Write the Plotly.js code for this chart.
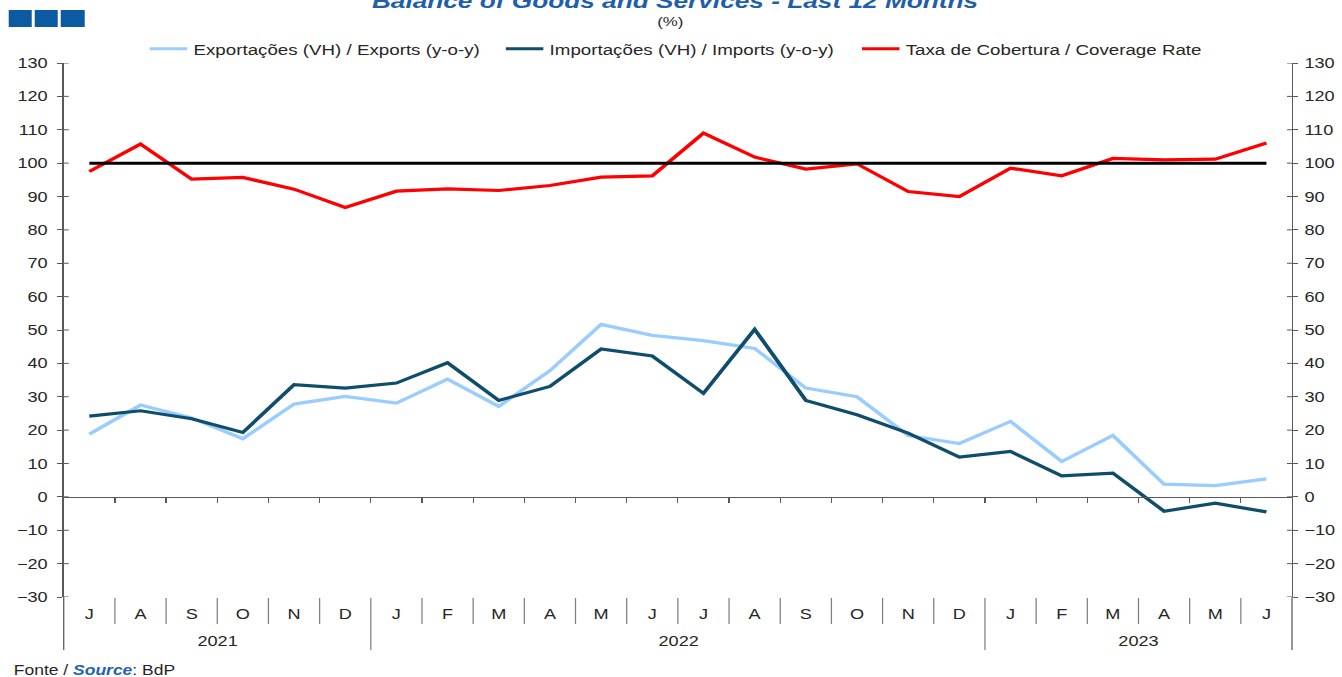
<!DOCTYPE html>
<html>
<head>
<meta charset="utf-8">
<script src="https://cdn.plot.ly/plotly-3.0.1.min.js"></script>
<style>
html,body{margin:0;padding:0;background:#fff;overflow:hidden;}
#wrap{width:1342px;height:677px;overflow:hidden;}
#chart{width:1074px;height:677px;transform-origin:0 0;}
</style>
</head>
<body>
<div id="wrap"><div id="chart"></div></div>
<script>
// ---- data ----
const months = ['J','A','S','O','N','D','J','F','M','A','M','J','J','A','S','O','N','D','J','F','M','A','M','J'];
const years = ['2021','2022','2023'];
const yearMonthCounts = [6, 12, 6];
const exportsYoY = [18.8,27.5,23.6,17.4,27.8,30.1,28.1,35.3,27.1,37.8,51.7,48.4,46.8,44.5,32.6,30.0,18.4,16.0,22.6,10.6,18.4,3.8,3.4,5.4];
const importsYoY = [24.2,25.8,23.4,19.3,33.6,32.6,34.1,40.2,28.9,33.1,44.3,42.2,31.0,50.2,28.9,24.6,19.1,11.9,13.6,6.3,7.1,-4.3,-1.9,-4.5];
const coverageRate = [97.5,105.7,95.2,95.7,92.2,86.7,91.6,92.3,91.8,93.3,95.8,96.2,109.0,101.8,98.2,99.8,91.5,90.0,98.5,96.2,101.4,101.0,101.2,106.0];
const referenceLevel = 100;
const yTicks = [-30,-20,-10,0,10,20,30,40,50,60,70,80,90,100,110,120,130];

// ---- geometry: the reference is a horizontally stretched chart ----
const WREF = 1342, H = 677;
const W = 1074;                     // drawing width before horizontal stretch
const SX = WREF / W;                // horizontal stretch factor
document.getElementById('chart').style.transform = 'scale(' + SX + ',1)';
const L = 64 / SX, R = 50 / SX, T = 63, B = 80;
const PW = W - L - R, PH = H - T - B;
const px = v => (v / SX - L) / PW;   // reference pixel x -> paper x
const py = v => (H - B - v) / PH;    // reference pixel y -> paper y
const yMin = -30, yMax = 130;

const idx = months.map((m, i) => i);
const refLine = months.map(() => referenceLevel);
const boundaries = months.slice(1).map((m, i) => i + 0.5);
const yearBounds = [];
yearMonthCounts.slice(0, -1).reduce((acc, n) => { yearBounds.push(acc + n - 0.5); return acc + n; }, 0);

const font = 'Liberation Sans, Arial, sans-serif';
const axisCol = '#595959';
const txtCol = '#262626';

const traces = [
  {x: idx, y: exportsYoY, type: 'scatter', mode: 'lines', name: 'Exportações (VH) / Exports (y-o-y)',
   line: {color: '#99CCFF', width: 3.2}, xaxis: 'x', yaxis: 'y'},
  {x: idx, y: importsYoY, type: 'scatter', mode: 'lines', name: 'Importações (VH) / Imports (y-o-y)',
   line: {color: '#0E4D6B', width: 3.2}, xaxis: 'x', yaxis: 'y'},
  {x: idx, y: coverageRate, type: 'scatter', mode: 'lines', name: 'Taxa de Cobertura / Coverage Rate',
   line: {color: '#FF0000', width: 3.2}, xaxis: 'x', yaxis: 'y'},
  {x: idx, y: refLine, type: 'scatter', mode: 'lines', name: '100', showlegend: false,
   line: {color: '#000000', width: 3}, xaxis: 'x2', yaxis: 'y'},
  {x: [idx[0]], y: [referenceLevel], type: 'scatter', mode: 'markers', marker: {opacity: 0},
   showlegend: false, hoverinfo: 'skip', xaxis: 'x', yaxis: 'y2'}
];

// ---- shapes ----
const shapes = [];
boundaries.forEach(b => {
  const isYear = yearBounds.indexOf(b) >= 0;
  shapes.push({type: 'line', xref: 'x', yref: 'paper', x0: b, x1: b, y0: py(598), y1: isYear ? py(650) : py(624),
               line: {color: '#7F7F7F', width: 1}});
});
// axis extensions below the plot
[0, 1].forEach(xx => shapes.push({type: 'line', xref: 'paper', yref: 'paper', x0: xx, x1: xx, y0: 0, y1: py(650),
  line: {color: axisCol, width: 1}}));
// inside part of the crossing y ticks
const inLen = 4 / PW;
yTicks.forEach(t => {
  shapes.push({type: 'line', xref: 'paper', yref: 'y', x0: 0, x1: inLen, y0: t, y1: t, line: {color: axisCol, width: 1}});
  shapes.push({type: 'line', xref: 'paper', yref: 'y', x0: 1 - inLen, x1: 1, y0: t, y1: t, line: {color: axisCol, width: 1}});
});
// logo squares
[[9, 32], [35, 58], [61, 85]].forEach(s => shapes.push({type: 'rect', xref: 'paper', yref: 'paper',
  x0: px(s[0]), x1: px(s[1]), y0: py(27), y1: py(10), fillcolor: '#0B5AA2', line: {width: 0}}));

// ---- annotations ----
const annotations = [];
let start = 0;
years.forEach((yr, k) => {
  const center = start + (yearMonthCounts[k] - 1) / 2;
  annotations.push({xref: 'x', yref: 'paper', x: center, y: py(641), text: yr, showarrow: false,
    font: {family: font, size: 14.5, color: txtCol}, xanchor: 'center', yanchor: 'middle'});
  start += yearMonthCounts[k];
});
annotations.push({xref: 'paper', yref: 'paper', x: px(12), y: py(670), xanchor: 'left', yanchor: 'middle', showarrow: false,
  text: 'Fonte / <b><i><span style="color:#1F64AD">Source</span></i></b>: BdP', font: {family: font, size: 14, color: txtCol}});
annotations.push({xref: 'paper', yref: 'paper', x: px(671), y: py(21), xanchor: 'center', yanchor: 'middle', showarrow: false,
  text: '(%)', font: {family: font, size: 13.5, color: txtCol}});

const yCommon = {range: [yMin, yMax], tickvals: yTicks, showline: true, linecolor: axisCol, linewidth: 1,
  ticks: 'outside', ticklen: 4, tickcolor: axisCol, showgrid: false, zeroline: false,
  tickfont: {family: font, size: 14.5, color: txtCol}};

const layout = {
  width: W, height: H,
  margin: {l: L, r: R, t: T, b: B},
  paper_bgcolor: '#ffffff', plot_bgcolor: '#ffffff',
  font: {family: font, color: txtCol},
  title: {text: '<b><i>Balance of Goods and Services - Last 12 Months</i></b>',
          font: {family: font, size: 21, color: '#1F5FAA'},
          xref: 'container', yref: 'container', x: 675 / WREF, xanchor: 'center', y: 1 - 1 / H, yanchor: 'middle'},
  showlegend: true,
  legend: {orientation: 'h', x: px(150 - 5 * SX), xanchor: 'left', y: py(49), yanchor: 'middle',
           entrywidth: 240, entrywidthmode: 'pixels',
           font: {family: font, size: 15, color: txtCol}, bgcolor: 'rgba(0,0,0,0)'},
  xaxis: {range: [-0.5, months.length - 0.5], tickmode: 'array', tickvals: idx, ticktext: months,
          ticks: '', showline: false, showgrid: false, zeroline: false, ticklabelstandoff: 7,
          tickfont: {family: font, size: 14.5, color: txtCol}},
  xaxis2: {overlaying: 'x', anchor: 'free', position: (0 - yMin) / (yMax - yMin),
           range: [-0.5, months.length - 0.5], tickmode: 'array', tickvals: boundaries,
           ticks: 'outside', ticklen: 5, tickcolor: axisCol, showticklabels: false,
           showline: true, linecolor: axisCol, linewidth: 1, showgrid: false, zeroline: false},
  yaxis: Object.assign({}, yCommon, {side: 'left', ticklabelstandoff: 5}),
  yaxis2: Object.assign({}, yCommon, {side: 'right', overlaying: 'y', anchor: 'x', ticklabelstandoff: 2}),
  shapes: shapes,
  annotations: annotations
};

Plotly.newPlot('chart', traces, layout, {displayModeBar: false, staticPlot: true});
</script>
</body>
</html>
